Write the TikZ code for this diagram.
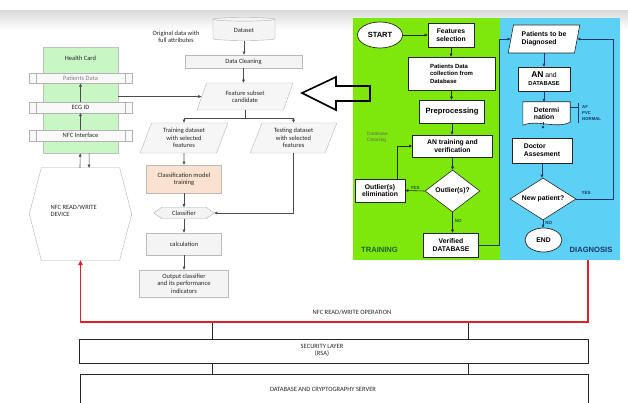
\documentclass[tikz,border=0pt]{standalone}
\usepackage{fontspec}
\setmainfont{Carlito}
\newfontfamily\arialf{Liberation Sans}
\usetikzlibrary{shapes.geometric,calc,arrows.meta,backgrounds}
\definecolor{gpan}{RGB}{126,232,12}
\definecolor{bpan}{RGB}{92,208,245}
\definecolor{hcg}{RGB}{200,246,196}
\definecolor{peach}{RGB}{250,226,206}
\definecolor{ltxt}{RGB}{40,40,40}
\definecolor{navy}{RGB}{25,55,100}
\definecolor{dgreen}{RGB}{30,100,30}
\definecolor{redl}{RGB}{228,30,40}
\newcommand\lfs{\fontsize{6.5}{7.3}\selectfont}
\newcommand\rfs{\arialf\bfseries\fontsize{6.8}{7.8}\selectfont}
\tikzset{
 lbox/.style={draw=gray!55, fill=gray!9, text=ltxt, font=\lfs, align=center, inner sep=1pt, line width=0.5pt},
 lpar/.style={trapezium, trapezium left angle=70, trapezium right angle=110, trapezium stretches=true, draw=gray!55, fill=gray!7, text=ltxt, font=\lfs, align=center, inner sep=1pt},
 larr/.style={draw=black!70, line width=0.6pt, -{Triangle[length=3.2pt,width=2.8pt]}},
 lline/.style={draw=black!70, line width=0.6pt},
 bar/.style={draw=gray!60, fill=gray!5, minimum width=103, minimum height=10.5, inner sep=0, font=\lfs, text=ltxt},
 rbox/.style={draw=black!85, fill=white, font=\rfs, align=center, inner sep=1pt, line width=0.6pt},
 rarr/.style={draw=black!85, line width=0.6pt, -{Triangle[length=3pt,width=2.6pt]}},
 barr/.style={draw=navy, line width=0.7pt, -{Triangle[length=3pt,width=2.6pt]}},
 lab/.style={font=\arialf\bfseries\fontsize{4.5}{5.5}\selectfont, inner sep=0},
 layerbox/.style={draw=black!85, line width=1.1pt, anchor=north west, inner sep=0},
}
\begin{document}
\begin{tikzpicture}[x=1pt,y=-1pt]
\useasboundingbox (0,0) rectangle (628,403);
\begin{scope}[on background layer]
\fill[white] (0,0) rectangle (628,403);
\shade[top color=gray!28, bottom color=white] (0,11) rectangle (628,30);
\fill[gpan] (353,18) rectangle (500,260);
\fill[bpan] (500,18) rectangle (620,260);
\end{scope}

% ---------- health card ----------
\node[draw=gray!50, fill=hcg, minimum width=75, minimum height=106, anchor=north west, inner sep=0] (hc) at (43,47) {};
\node[font=\lfs, text=ltxt] (hct) at (80.5,58) {Health Card};
\node[bar] (pd) at (80.5,78) {\color{gray}Patients Data};
\node[bar] (ecg) at (80.5,107.5) {ECG ID};
\node[bar] (nfc) at (80.5,135.5) {NFC Interface};
\foreach \b in {pd,ecg,nfc}{
 \draw[gray!60] ([xshift=7pt]\b.north west) -- ([xshift=7pt]\b.south west);
 \draw[gray!60] ([xshift=-7pt]\b.north east) -- ([xshift=-7pt]\b.south east);
}
\draw[larr] (ecg.north) -- (pd.south);
\draw[larr] (nfc.north) -- (ecg.south);

% ---------- NFC device ----------
\node[minimum width=102, minimum height=92, inner sep=0] (dev) at (80.5,214) {};
\draw[draw=gray!60, fill=white] (dev.west) -- ([xshift=12pt]dev.north west) -- ([xshift=-12pt]dev.north east) -- (dev.east) -- ([xshift=-12pt]dev.south east) -- ([xshift=12pt]dev.south west) -- cycle;
\node[font=\lfs, text=ltxt, align=left, anchor=west] (devt) at (47,211) {NFC READ/WRITE\\DEVICE};
\draw[larr] ($(dev.north)+(-0.5,0)$) -- ($(hc.south)+(-0.5,0)$);
\draw[larr] ($(hc.south)+(8.5,0)$) -- ($(dev.north)+(8.5,0)$);

% ---------- middle flowchart ----------
\node[font=\lfs, text=ltxt, align=center] (orig) at (176,37) {Original data with\\full attributes};
\node[cylinder, shape border rotate=90, aspect=0.18, draw=gray!60, fill=gray!9, minimum width=62, minimum height=23, inner sep=0, font=\lfs, text=ltxt] (ds) at (244,30) {Dataset};
\node[lbox, minimum width=117, minimum height=13] (dc) at (243.5,61.5) {Data Cleaning};
\node[lpar, minimum width=96, minimum height=27] (fs) at (245,96.5) {Feature subset\\candidate};
\coordinate (j) at (0,118);
\node[lpar, minimum width=88, minimum height=30] (tr) at (184,138) {Training dataset\\with selected\\features};
\node[lpar, minimum width=87, minimum height=30] (te) at (293.5,138) {Testing dataset\\with selected\\features};
\node[lbox, fill=peach, minimum width=75, minimum height=28] (cmt) at (184,179) {Classification model\\training};
\node[font=\lfs, text=ltxt, minimum width=60, minimum height=11, inner sep=0] (cl) at (184,213) {Classifier};
\node[lbox, minimum width=75, minimum height=22] (calcn) at (184,244) {calculation};
\node[lbox, minimum width=89, minimum height=27] (out) at (184,283.5) {Output classifier\\and its performance\\indicators};

\draw[larr] (hc.east |- fs.west) -- (fs.west);
\draw[larr] (ds.south) -- (ds.south |- dc.north);
\draw[larr] (dc.south) -- (dc.south |- fs.north);
\draw[lline] (fs.south) -- (fs.south |- j);
\draw[lline] (tr.north |- j) -- (te.north |- j);
\draw[larr] (tr.north |- j) -- (tr.north);
\draw[larr] (te.north |- j) -- (te.north);
\draw[larr] (tr.south) -- (cmt.north);
\draw[larr] (cmt.south) -- (cl.north);
\draw[larr] (cl.south) -- (calcn.north);
\draw[larr] (calcn.south) -- (out.north);
\draw[larr] (te.south) |- (cl.east);

% ---------- bottom layers ----------
\coordinate (rtop) at (588,260);
\coordinate (rbot) at (80.5,322);
\node[font=\lfs, text=ltxt] (nfcop) at (352,312) {NFC READ/WRITE OPERATION};
\node[layerbox, minimum width=509, minimum height=24] (sec) at (79,339) {};
\node[font=\lfs, text=ltxt, align=center] (sect) at (322,350.5) {SECURITY LAYER\\(RSA)};
\node[layerbox, minimum width=508, minimum height=33] (srv) at (80,374) {};
\node[font=\lfs, text=ltxt] (srvt) at (323,389) {DATABASE AND CRYPTOGRAPHY SERVER};
\coordinate (c1) at (212,322);
\coordinate (c2) at (468,322);
\draw[black!85, line width=1pt] (c1) -- (c1 |- sec.north) (c2) -- (c2 |- sec.north);
\draw[black!85, line width=1pt] (c1 |- sec.south) -- (c1 |- srv.north) (c2 |- sec.south) -- (c2 |- srv.north);
\draw[redl, line width=1.8pt, -{Triangle[length=5pt,width=4.5pt]}] (rtop) |- (rbot) -- (dev.south);

% ---------- big hollow arrow ----------
\draw[line width=1.6pt, black, line join=miter] (302,93) -- (336,77) -- (336,86) -- (370,86) -- (370,101) -- (336,101) -- (336,110) -- cycle;

% ---------- training panel ----------
\node[ellipse, draw=black!85, fill=white, line width=0.7pt, minimum width=45, minimum height=26, inner sep=0, font=\arialf\bfseries\fontsize{7.5}{8}\selectfont] (st) at (380,35) {START};
\node[rbox, minimum width=46, minimum height=24] (fsel) at (451,35) {Features\\selection};
\node[rbox, minimum width=87, minimum height=33, align=left, font=\arialf\bfseries\fontsize{6}{7.6}\selectfont] (pdc) at (451.5,73.5) {Patients Data\\collection from\\Database};
\node[rbox, minimum width=65, minimum height=23, font=\arialf\bfseries\fontsize{7.6}{8.5}\selectfont] (pre) at (452,111.5) {Preprocessing};
\node[rbox, minimum width=80, minimum height=22] (ant) at (452.5,146) {AN training and\\verification};
\node[diamond, aspect=1.3, draw=black!85, fill=white, line width=0.6pt, minimum width=55, minimum height=42, inner sep=0, font=\rfs] (od) at (452.5,191) {Outlier(s)?};
\node[rbox, minimum width=50, minimum height=23] (oe) at (380,190.5) {Outlier(s)\\elimination};
\node[rbox, minimum width=55, minimum height=24] (vd) at (451,245) {Verified\\DATABASE};
\node[font=\arialf\fontsize{4.8}{5.8}\selectfont, text=black!60, align=left, anchor=west, inner sep=0] (dbc) at (367,137) {Database\\Cleaning};
\node[font=\arialf\bfseries\fontsize{7.6}{8}\selectfont, text=dgreen, inner sep=0] (trl) at (379.5,250) {TRAINING};

\draw[rarr] (st.east) -- (fsel.west);
\draw[rarr] (fsel.south) -- (fsel.south |- pdc.north);
\draw[rarr] (pdc.south) -- (pdc.south |- pre.north);
\draw[rarr] (pre.south) -- (pre.south |- ant.north);
\draw[rarr] (ant.south) -- (ant.south |- od.north);
\draw[rarr] (od.west) -- (oe.east) node[midway, above=1pt, lab, text=dgreen] {YES};
\draw[rarr] ([xshift=17pt]oe.north) |- (ant.west);
\draw[rarr] (od.south) -- (od.south |- vd.north) node[pos=0.4, right=2pt, lab, text=dgreen] {NO};
\coordinate (lp) at (499.5,0);

% ---------- diagnosis panel ----------
\node[trapezium, trapezium left angle=76, trapezium right angle=104, trapezium stretches=true, rbox, align=left, minimum width=72, minimum height=28] (ptd) at (544,39) {Patients to be\\Diagnosed};
\node[rbox, minimum width=52, minimum height=24] (an) at (544,79) {{\fontsize{8.5}{9}\selectfont AN} {\mdseries and}\\{\fontsize{5.8}{7}\selectfont DATABASE}};
\node[font=\rfs, align=left, minimum width=47, minimum height=23, inner sep=1pt] (det) at (546.5,113.5) {Determi\\nation};
\node[rbox, minimum width=60, minimum height=25, align=left] (doc) at (542,150.5) {Doctor\\Assesment};
\node[diamond, aspect=1.6, draw=black!85, fill=white, line width=0.6pt, minimum width=66, minimum height=42, inner sep=0, font=\rfs] (np) at (543,199) {New patient?};
\node[ellipse, draw=black!85, fill=white, line width=0.7pt, minimum width=37, minimum height=24, inner sep=0, font=\rfs] (en) at (543.5,240) {END};
\node[font=\arialf\bfseries\fontsize{7.6}{8}\selectfont, text=navy, inner sep=0] (dgl) at (591,250) {DIAGNOSIS};
\begin{scope}[on background layer]
\draw[draw=gray!60, fill=gray!9] (cl.west) -- ([xshift=8pt]cl.north west) -- ([xshift=-8pt]cl.north east) -- (cl.east) -- ([xshift=-8pt]cl.south east) -- ([xshift=8pt]cl.south west) -- cycle;
\draw[draw=black!85, fill=white, line width=0.6pt] (det.north west) -- (det.north east) -- ([yshift=3pt]det.south east) .. controls ([xshift=-14pt,yshift=-4pt]det.south east) and ([xshift=14pt,yshift=6pt]det.south west) .. (det.south west) -- cycle;
\end{scope}
\draw[navy, line width=0.6pt] ([yshift=6pt]det.east) -- ++(8,0) coordinate (bk);
\draw[navy, line width=0.6pt] ($(bk)+(0,-4)$) -- ($(bk)+(0,16)$);
\node[font=\arialf\bfseries\fontsize{4.3}{6.2}\selectfont, text=navy, align=left, anchor=west, inner sep=0] (afl) at (582,113) {AF\\PVC\\NORMAL};

\draw[barr] (vd.east) -| (lp |- ptd.west) -- (ptd.west);
\draw[barr] (ptd.south) -- (ptd.south |- an.north);
\draw[barr] (an.south) -- (an.south |- det.north);
\draw[barr] ($(det.south)+(-3.5,0)$) -- ($(det.south)+(-3.5,0)$ |- doc.north);
\draw[barr] (doc.south) -- (doc.south |- np.north);
\draw[barr] (np.south) -- (np.south |- en.north) node[pos=0.3, right=2pt, lab, text=navy] {NO};
\coordinate (rp) at (613,0);
\draw[barr] (np.east) -| (rp |- ptd.east) -- (ptd.east);
\node[lab, text=navy] (yes2) at (586,193) {YES};
\end{tikzpicture}
\end{document}
